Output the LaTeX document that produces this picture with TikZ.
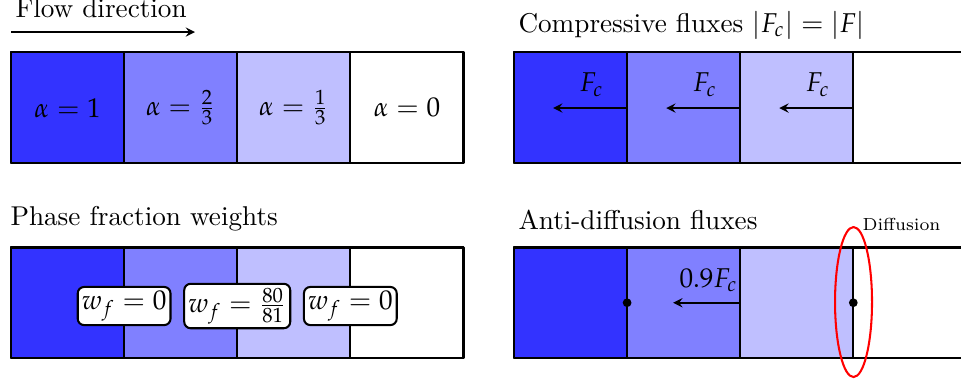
\documentclass[tikz,border=0pt]{standalone}
\usepackage{mathpazo}
\usetikzlibrary{shapes.geometric}

\begin{document}
\begin{tikzpicture}[font=\fontsize{10.6}{12.7}\selectfont,line join=round,>=stealth,
		cellline/.style={line width=0.7pt},
		frame/.style={line width=1.1pt},
		title/.style={anchor=base west,inner sep=0pt},
		wbox/.style={draw,line width=0.8pt,fill=white,rounded corners=2.5pt,inner sep=1.6pt},
		flux/.style={->,semithick}]
	\def \w{1.55}
	\def \h{1.52}
	\useasboundingbox (0,0) rectangle (13.17,5.277);
	\clip (0,0) rectangle (13.17,5.277);
	% the four rows of cells
	\foreach \px/\py in {0.151/3.043,7.044/3.043,0.151/0.37,7.044/0.37}{
		\foreach \c [count=\i from 0] in {blue!80,blue!50,blue!25,white}{
			\filldraw[fill=\c,cellline] (\px+\i*\w,\py) rectangle ++(\w,\h);
		}
		\draw[frame] (\px,\py) rectangle ++(4*\w,\h);
	}
	% titles
	\node[title] (flowtxt) at (0.206,5.043) {Flow direction};
	\coordinate (fs) at (0.151,4.838);
	\coordinate (fe) at (2.672,4.838);
	\draw[flux] (fs) -- (fe);
	\node[title] (comptxt) at (7.099,4.838) {Compressive fluxes $|F_c| = |F|$};
	\node[title] (phasetxt) at (0.137,2.193) {Phase fraction weights};
	\node[title] (antitxt) at (7.099,2.138) {Anti-diffusion fluxes};
	% volume fractions
	\node (a1) at (0.151+0.5*\w,3.80) {$\alpha = 1$};
	\node (a2) at (0.151+1.5*\w,3.80) {$\alpha = \frac{2}{3}$};
	\node (a3) at (0.151+2.5*\w,3.80) {$\alpha = \frac{1}{3}$};
	\node (a4) at (0.151+3.5*\w,3.80) {$\alpha = 0$};
	% compressive fluxes
	\foreach \k in {1,2,3}{
		\coordinate (cb\k) at (7.044+\k*\w,3.796);
		\coordinate (ce\k) at (7.044+\k*\w-1.014,3.796);
		\draw[flux] (cb\k) -- (ce\k);
		\node[title,anchor=base east] (fc\k) at (7.044+\k*\w-0.315,4.016) {$F_c$};
	}
	% weights
	\node[wbox] (wf1) at (0.151+\w,1.083) {$w_f = 0$};
	\node[wbox] (wf2) at (0.151+2*\w,1.083) {$w_f = \frac{80}{81}$};
	\node[wbox] (wf3) at (0.151+3*\w,1.083) {$w_f = 0$};
	% anti-diffusion
	\coordinate (ab) at (7.044+2*\w,1.128);
	\coordinate (ae) at (7.044+2*\w-0.918,1.128);
	\draw[flux] (ab) -- (ae);
	\node[title,anchor=base east] (afc) at (7.044+2*\w-0.03,1.343) {$0.9F_c$};
	\fill (7.044+\w,1.128) circle (0.06);
	\fill (7.044+3*\w,1.128) circle (0.06);
	\node[ellipse,draw=red,thick,minimum width=0.507cm,minimum height=2.056cm,inner sep=0pt] (diffring) at (11.697,1.1375) {};
	\node[title,font=\fontsize{6.8}{8}\selectfont] (difftxt) at (11.814,2.124) {Diffusion};
\end{tikzpicture}
\end{document}
